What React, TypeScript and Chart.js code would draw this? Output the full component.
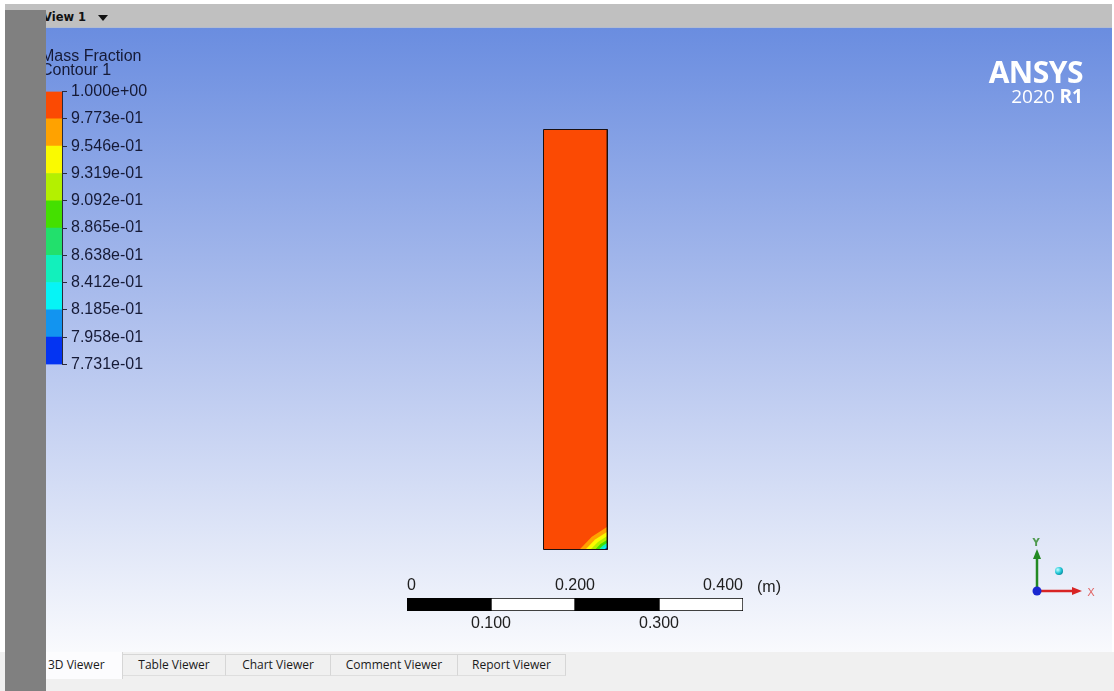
import React, { useEffect, useRef } from "react";
import { Chart, registerables } from "chart.js";

Chart.register(...registerables);

// Contour levels of the mass fraction legend, bottom to top
const contourLevels = [0.7731, 0.7958, 0.8185, 0.8412, 0.8638, 0.8865, 0.9092, 0.9319, 0.9546, 0.9773, 1.0];
const contourLabels = [
  "7.731e-01", "7.958e-01", "8.185e-01", "8.412e-01", "8.638e-01", "8.865e-01",
  "9.092e-01", "9.319e-01", "9.546e-01", "9.773e-01", "1.000e+00",
];
// One colour per band between two consecutive levels
const bandColors = [
  "#0434f2", "#1294f0", "#06f4f6", "#12f0bc", "#22e06c",
  "#44e000", "#b4f000", "#fafa00", "#ffa200", "#fb4a03",
];

// Domain outline in metres
const domainX = [0, 0, 0.076, 0.076, 0];
const domainY = [0, 0.5, 0.5, 0, 0];

// Bands in the bottom-right corner: reach along the bottom wall and rise along the right wall (m)
const cornerReach = [0.033, 0.026, 0.02, 0.0145, 0.01, 0.0065, 0.0035];
const cornerRise = [0.027, 0.021, 0.016, 0.0115, 0.008, 0.005, 0.0025];
const cornerBand = [8, 7, 6, 5, 3, 2, 0];

// Scale bar
const scaleSegments = [[0, 0.1], [0.1, 0.2], [0.2, 0.3], [0.3, 0.4]];
const scaleTopTicks = [0, 0.2, 0.4];
const scaleTopLabels = ["0", "0.200", "0.400"];
const scaleBottomTicks = [0.1, 0.3];
const scaleBottomLabels = ["0.100", "0.300"];

const viewerTabs = ["3D Viewer", "Table Viewer", "Chart Viewer", "Comment Viewer", "Report Viewer"];
const tabWidths = [77, 103, 105, 127, 108];

// Viewport: 1066 x 624 px at 840 px per metre
const PX_PER_M = 840;
const VIEW_W = 1066;
const VIEW_H = 624;
const viewXMin = -(543.5 - 46) / PX_PER_M;
const viewXMax = viewXMin + VIEW_W / PX_PER_M;
const viewYMax = (549.5 - 28) / PX_PER_M;
const viewYMin = viewYMax - VIEW_H / PX_PER_M;

const ARIAL = '"Liberation Sans", Arial, sans-serif';

export default function App() {
  const mainRef = useRef<HTMLCanvasElement>(null);
  const legendRef = useRef<HTMLCanvasElement>(null);
  const scaleRef = useRef<HTMLCanvasElement>(null);

  useEffect(() => {
    const charts: Chart[] = [];
    const W = domainX[2];

    // Domain view
    const domainTop = [
      { x: domainX[1], y: domainY[1] },
      { x: domainX[2], y: domainY[2] },
    ];
    const outline = domainX.map((x, i) => ({ x, y: domainY[i] }));
    const cornerSets = cornerReach.map((r, i) => ({
      data: [
        { x: W - r, y: 0 },
        { x: W - r * 0.56, y: cornerRise[i] * 0.56 },
        { x: W, y: cornerRise[i] },
      ],
      showLine: true,
      fill: "origin",
      backgroundColor: bandColors[cornerBand[i]],
      borderWidth: 0,
      pointRadius: 0,
      order: 10 - i,
    }));

    if (mainRef.current) {
      charts.push(
        new Chart(mainRef.current, {
          type: "scatter",
          data: {
            datasets: [
              {
                data: domainTop,
                showLine: true,
                fill: "origin",
                backgroundColor: bandColors[9],
                borderWidth: 0,
                pointRadius: 0,
                order: 20,
              },
              ...cornerSets,
              {
                data: outline,
                showLine: true,
                fill: false,
                borderColor: "#1b1010",
                borderWidth: 1,
                pointRadius: 0,
                order: 0,
              },
            ] as any,
          },
          options: {
            responsive: false,
            animation: false,
            events: [],
            layout: { padding: 0 },
            elements: { line: { tension: 0 }, point: { radius: 0 } },
            plugins: { legend: { display: false }, tooltip: { enabled: false } },
            scales: {
              x: { type: "linear", display: false, min: viewXMin, max: viewXMax },
              y: { type: "linear", display: false, min: viewYMin, max: viewYMax },
            },
          },
        })
      );
    }

    // Colour legend
    if (legendRef.current) {
      charts.push(
        new Chart(legendRef.current, {
          type: "bar",
          data: {
            labels: ["band"],
            datasets: bandColors.map((c, i) => ({
              data: [[contourLevels[i], contourLevels[i + 1]]],
              backgroundColor: c,
              borderWidth: 0,
              grouped: false,
              barPercentage: 1,
              categoryPercentage: 1,
            })) as any,
          },
          options: {
            responsive: false,
            animation: false,
            events: [],
            layout: { padding: { top: 11, bottom: 13, left: 0, right: 0 } },
            plugins: { legend: { display: false }, tooltip: { enabled: false } },
            scales: {
              x: { display: false },
              y: {
                position: "right",
                min: contourLevels[0],
                max: contourLevels[contourLevels.length - 1],
                afterBuildTicks: (axis: any) => {
                  axis.ticks = contourLevels.map((v) => ({ value: v }));
                },
                afterFit: (axis: any) => {
                  axis.width = 108;
                },
                ticks: {
                  autoSkip: false,
                  padding: 4,
                  color: "#161a36",
                  font: { family: ARIAL, size: 16 },
                  callback: (v: any) => contourLabels[contourLevels.indexOf(Number(v))],
                },
                grid: { drawOnChartArea: false, tickLength: 5, color: "#2a2a3a" },
                border: { display: true, color: "#2a2a3a" },
              },
            },
          } as any,
        })
      );
    }

    // Scale bar
    if (scaleRef.current) {
      charts.push(
        new Chart(scaleRef.current, {
          type: "bar",
          data: {
            labels: ["scale"],
            datasets: scaleSegments.map((s, i) => ({
              data: [s],
              backgroundColor: i % 2 === 0 ? "#000000" : "#ffffff",
              borderColor: "#000000",
              borderWidth: 1,
              borderSkipped: false,
              grouped: false,
              barPercentage: 1,
              categoryPercentage: 1,
            })) as any,
          },
          options: {
            indexAxis: "y",
            responsive: false,
            animation: false,
            events: [],
            layout: { padding: { top: 4, bottom: 4, left: 27, right: 77 } },
            plugins: { legend: { display: false }, tooltip: { enabled: false } },
            scales: {
              y: { display: false },
              x: {
                type: "linear",
                position: "top",
                min: 0,
                max: 0.4,
                afterBuildTicks: (axis: any) => {
                  axis.ticks = scaleTopTicks.map((v) => ({ value: v }));
                },
                afterFit: (axis: any) => {
                  axis.height = 24;
                },
                ticks: {
                  align: "inner",
                  padding: 3,
                  maxRotation: 0,
                  color: "#202020",
                  font: { family: ARIAL, size: 16 },
                  callback: (v: any) => scaleTopLabels[scaleTopTicks.indexOf(Number(v))],
                },
                grid: { display: false, drawTicks: false },
                border: { display: false },
              },
              x2: {
                type: "linear",
                axis: "x",
                position: "bottom",
                min: 0,
                max: 0.4,
                afterBuildTicks: (axis: any) => {
                  axis.ticks = scaleBottomTicks.map((v) => ({ value: v }));
                },
                afterFit: (axis: any) => {
                  axis.height = 25;
                },
                ticks: {
                  padding: 3,
                  maxRotation: 0,
                  color: "#202020",
                  font: { family: ARIAL, size: 16 },
                  callback: (v: any) => scaleBottomLabels[scaleBottomTicks.indexOf(Number(v))],
                },
                grid: { display: false, drawTicks: false },
                border: { display: false },
              },
            },
          } as any,
        })
      );
    }

    return () => charts.forEach((c) => c.destroy());
  }, []);

  let tabLeft = 46;
  const tabs = viewerTabs.map((name, i) => {
    const left = tabLeft;
    tabLeft += tabWidths[i];
    const selected = i === 0;
    return (
      <div
        key={name}
        style={{
          position: "absolute",
          left,
          top: selected ? 652 : 654,
          width: tabWidths[i] - 1,
          height: selected ? 27 : 20,
          background: selected ? "#fcfcfe" : "#f0f0f0",
          borderTop: selected ? "none" : "1px solid #d6d6d6",
          borderRight: "1px solid #d6d6d6",
          borderBottom: selected ? "none" : "1px solid #dedede",
          fontFamily: '"Open Sans", "Noto Sans", sans-serif',
          fontSize: 12,
          color: "#1a1a1a",
          lineHeight: selected ? "26px" : "20px",
          textAlign: selected ? "left" : "center",
          textIndent: selected ? 2 : 0,
          whiteSpace: "nowrap",
        }}
      >
        {name}
      </div>
    );
  });

  return (
    <div
      style={{
        position: "fixed",
        left: 0,
        top: 0,
        width: 1114,
        height: 691,
        background: "#ffffff",
        overflow: "hidden",
        fontFamily: ARIAL,
      }}
    >
      {/* title bar of the view */}
      <div style={{ position: "absolute", left: 5, top: 4, width: 1107, height: 23, background: "#c0c0c0" }} />
      <div style={{ position: "absolute", left: 5, top: 27, width: 1107, height: 1, background: "#b3bccf" }} />
      <div
        style={{
          position: "absolute",
          left: 43,
          top: 10,
          fontFamily: '"DejaVu Sans", sans-serif',
          fontWeight: "bold",
          fontSize: 11.5,
          color: "#111",
          whiteSpace: "pre",
        }}
      >
        View 1
      </div>
      <div
        style={{
          position: "absolute",
          left: 98,
          top: 15,
          width: 0,
          height: 0,
          borderLeft: "5px solid transparent",
          borderRight: "5px solid transparent",
          borderTop: "6px solid #111",
        }}
      />

      {/* 3D viewport */}
      <div
        style={{
          position: "absolute",
          left: 46,
          top: 28,
          width: VIEW_W,
          height: VIEW_H,
          background: "linear-gradient(to bottom, #6a8de0 0%, #b3c3ee 50%, #f9fafd 100%)",
        }}
      />
      <canvas
        ref={mainRef}
        width={VIEW_W}
        height={VIEW_H}
        style={{ position: "absolute", left: 46, top: 28, width: VIEW_W, height: VIEW_H }}
      />

      {/* legend */}
      <div
        style={{
          position: "absolute",
          left: 41,
          top: 49,
          fontSize: 16,
          lineHeight: "14px",
          color: "#161a36",
          whiteSpace: "pre",
        }}
      >
        {"Mass Fraction\nContour 1"}
      </div>
      <canvas
        ref={legendRef}
        width={150}
        height={300}
        style={{ position: "absolute", left: 20, top: 78, width: 150, height: 300 }}
      />

      {/* product label */}
      <div
        style={{
          position: "absolute",
          right: 31,
          top: 57,
          textAlign: "right",
          fontFamily: '"Open Sans", sans-serif',
          color: "#ffffff",
        }}
      >
        <div style={{ fontSize: 30, fontWeight: 700, lineHeight: "30px", letterSpacing: -0.5 }}>ANSYS</div>
        <div style={{ fontSize: 19, lineHeight: "19px", marginTop: 0 }}>
          2020 <span style={{ fontWeight: 700 }}>R1</span>
        </div>
      </div>

      {/* scale bar */}
      <canvas
        ref={scaleRef}
        width={440}
        height={70}
        style={{ position: "absolute", left: 380, top: 570, width: 440, height: 70 }}
      />
      <div style={{ position: "absolute", left: 757, top: 578, fontSize: 16, color: "#202020" }}>(m)</div>

      {/* axis triad */}
      <svg
        style={{ position: "absolute", left: 1020, top: 535, width: 90, height: 70 }}
        viewBox="0 0 90 70"
      >
        <defs>
          <radialGradient id="sph" cx="35%" cy="35%" r="70%">
            <stop offset="0%" stopColor="#c8ffff" />
            <stop offset="60%" stopColor="#22c8d8" />
            <stop offset="100%" stopColor="#0a8ea0" />
          </radialGradient>
        </defs>
        <line x1={17} y1={56} x2={17} y2={22} stroke="#238a23" strokeWidth={2.5} />
        <polygon points="17,14 13,24 21,24" fill="#238a23" />
        <text x={16} y={11} fill="#4f9a4f" fontSize={10} fontWeight="bold" textAnchor="middle" fontFamily="DejaVu Sans">
          Y
        </text>
        <line x1={17} y1={56} x2={54} y2={56} stroke="#d82424" strokeWidth={2.5} />
        <polygon points="62,56 52,52 52,60" fill="#d82424" />
        <text x={71} y={61} fill="#e06868" fontSize={11} textAnchor="middle" fontFamily="DejaVu Sans">
          X
        </text>
        <circle cx={17} cy={56} r={4.5} fill="#1a28d0" />
        <circle cx={39} cy={36} r={4} fill="url(#sph)" />
      </svg>

      {/* viewer tabs */}
      <div style={{ position: "absolute", left: 0, top: 652, width: 1114, height: 39, background: "#f0f0f0" }} />
      {tabs}

      {/* left panel edge */}
      <div style={{ position: "absolute", left: 5, top: 10, width: 41, height: 681, background: "#808080" }} />
    </div>
  );
}
